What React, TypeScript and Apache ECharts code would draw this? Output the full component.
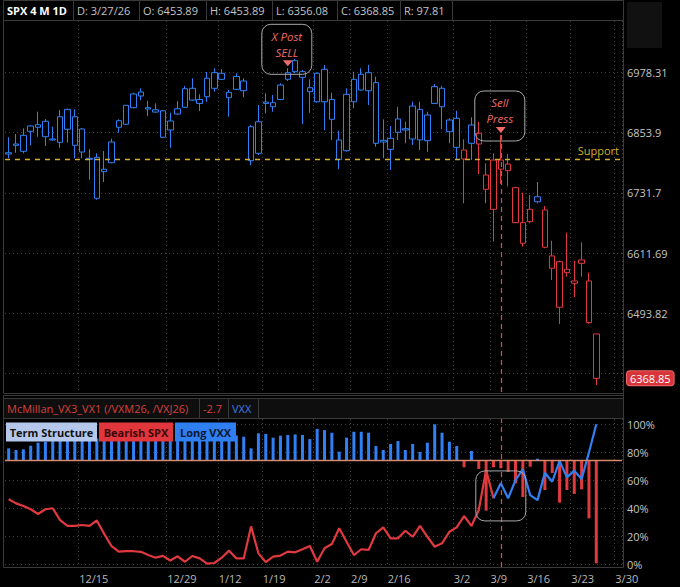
import React, { useEffect, useRef } from 'react';
import * as echarts from 'echarts';

// ---------- data ----------
const dates = [
  '12/1','12/2','12/3','12/4','12/5','12/8','12/9','12/10','12/11','12/12',
  '12/15','12/16','12/17','12/18','12/19','12/22','12/23','12/24','12/26','12/29',
  '12/30','12/31','1/2','1/5','1/6','1/7','1/8','1/9','1/12','1/13',
  '1/14','1/15','1/16','1/20','1/21','1/22','1/23','1/26','1/27','1/28',
  '1/29','1/30','2/2','2/3','2/4','2/5','2/6','2/9','2/10','2/11',
  '2/12','2/13','2/17','2/18','2/19','2/20','2/23','2/24','2/25','2/26',
  '2/27','3/2','3/3','3/4','3/5','3/6','3/9','3/10','3/11','3/12',
  '3/13','3/16','3/17','3/18','3/19','3/20','3/23','3/24','3/25','3/26',
  '3/27','3/30','3/31','4/1'
];

const opens = [
  6813, 6830.8, 6815.9, 6867.6, 6865, 6877.3, 6841, 6834.2, 6860.9, 6886.7,
  6861.5, 6801.6, 6803.6, 6779.5, 6792.7, 6865, 6871.1, 6905.3, 6937.7, 6905.3,
  6901, 6899, 6877.9, 6892.2, 6906.1, 6945.4, 6914.1, 6928, 6945.4, 6976.7,
  6937.1, 6970, 6960.6, 6866.2, 6811.8, 6916.9, 6907.3, 6922.3, 6964.1, 7003,
  6980, 6946.6, 6917.5, 6984.9, 6922.3, 6839, 6817.1, 6917.5, 6974.6, 6977.9,
  6957.1, 6838.3, 6819.9, 6854.7, 6862.1, 6841, 6901.8, 6837.5, 6914.1, 6945.4,
  6855.9, 6824, 6800.2, 6832.2, 6852.7, 6767.8, 6698.8, 6798.1, 6789.9, 6742.2,
  6672.1, 6674.1, 6723.9, 6697.4, 6581.8, 6594.8, 6573.2, 6552.4, 6598.2, 6556.9,
  6453.89
];
const highs = [
  6844.5, 6851.2, 6862.9, 6869, 6897, 6882, 6866.2, 6900.4, 6903.1, 6901.8,
  6863.5, 6820.5, 6811.7, 6816.5, 6841.6, 6881.3, 6911, 6936.3, 6945.4, 6919.5,
  6914.1, 6900.4, 6894.9, 6918.9, 6950.2, 6966.2, 6932.9, 6979.3, 6987, 6984.9,
  6941.9, 6976.7, 6966.2, 6869.7, 6910.8, 6935, 6931.5, 6955.8, 6987, 7006.5,
  6983.5, 6964.1, 6978.7, 6994, 6936.3, 6858, 6945.4, 6980, 6987, 6994,
  6969.5, 6881.3, 6867.6, 6907.3, 6876.4, 6917.5, 6917.5, 6897, 6954.3, 6950.2,
  6883.4, 6899, 6840.4, 6885.5, 6876.4, 6791.4, 6811.7, 6849.2, 6810.3, 6744,
  6731.9, 6727.4, 6753.6, 6705.4, 6636.3, 6597, 6652.2, 6596.8, 6633.1, 6573.2,
  6453.89
];
const lows = [
  6801.6, 6813, 6811.8, 6828.1, 6845.7, 6826.7, 6837.5, 6823.2, 6833.4, 6801.6,
  6801.6, 6758.5, 6718, 6753.6, 6791.4, 6853.9, 6869.7, 6904, 6920.9, 6888.1,
  6894.9, 6843, 6823.2, 6891, 6905, 6919.5, 6898.4, 6917.5, 6938.4, 6962.7,
  6886.7, 6941.9, 6926.8, 6787.8, 6808.3, 6893.7, 6897, 6920.9, 6960.5, 6977.2,
  6871.7, 6894.9, 6915.6, 6859.4, 6839, 6779.5, 6815, 6904, 6940.4, 6910.8,
  6825.3, 6801.6, 6778, 6839, 6832.2, 6828.7, 6818.5, 6815, 6912.9, 6860.9,
  6832.2, 6798.1, 6710.8, 6798.1, 6769.8, 6710.8, 6634.3, 6750.3, 6744.8, 6670.9,
  6624.4, 6670.9, 6710.8, 6621.2, 6558.8, 6473.3, 6565.3, 6525.1, 6565.3, 6473.3,
  6356.08
];
const closes = [
  6810.3, 6828.1, 6848.6, 6856.8, 6870.3, 6845.7, 6839, 6886.7, 6901.8, 6828.1,
  6814.4, 6799.5, 6720.9, 6774.5, 6834.9, 6878.5, 6910.2, 6933.6, 6929.5, 6902.5,
  6896.3, 6844.5, 6859.4, 6903.1, 6944.6, 6920.9, 6922.3, 6966.2, 6977.9, 6964.1,
  6925.9, 6943.3, 6940.4, 6796.8, 6876.4, 6914.1, 6915.6, 6952.3, 6977.9, 6980,
  6968.3, 6938.4, 6976.7, 6917.5, 6881.3, 6799.5, 6932.9, 6964.1, 6941.9, 6940.4,
  6832.2, 6834.9, 6842.4, 6882, 6859.4, 6908.7, 6839, 6890.2, 6948.8, 6907.3,
  6879.9, 6883.4, 6818.5, 6869.7, 6830.8, 6738.9, 6798.1, 6779.5, 6776.5, 6672.1,
  6631.1, 6698.8, 6713.9, 6623.2, 6606.1, 6505.6, 6579.8, 6556.9, 6591.6, 6475.8,
  6368.85
];
// bars painted red (bearish signal)
const bearishBars = [62, 64, 65, 66, 67, 68, 69, 70, 71, 73, 74, 75, 76, 77, 78, 79, 80];

// lower study (percent)
const termStructure = [
  82.9, 81.7, 82.2, 84.8, 86.9, 87.6, 89, 90, 91, 90,
  92, 91, 90, 89, 91, 92, 90, 91, 93, 92,
  91, 90, 92, 93, 91, 90, 92, 93, 92, 91,
  90, 92, 91.2, 82.9, 93.6, 93.1, 90.5, 91.9, 92.4, 92.8,
  92.4, 89.5, 96.7, 95.9, 94, 80.5, 90.5, 94.7, 94.7, 94,
  84.5, 81.7, 86, 88.1, 81.7, 86, 80.3, 86.9, 100, 94,
  87.6, 84.5, 69.4, 81, 68.2, 38.5, 69.4, 68.7, 66, 58,
  48.2, 69.8, 75.5, 53.2, 65.3, 44.2, 53.2, 50.4, 53.7, 33,
  1
];
const termBase = 74.5;
const studyLine = [
  46.6, 43.7, 41.8, 39.5, 36.1, 39.5, 40.2, 31.8, 27.6, 27.6,
  28.3, 27.6, 31.5, 22, 13.3, 9.3, 9.6, 9.6, 9.2, 6.9,
  5, 6.3, 3, 6, 2.1, 6.2, 4.5, 0.8, 1.2, 5,
  10, 4.5, 4.5, 27.3, 8.1, 1.8, 5.7, 6.5, 9.3, 8.8,
  11, 13.3, 2.1, 11.7, 14.7, 26, 16.4, 6.9, 11, 10.5,
  22.4, 26.6, 18.8, 18.8, 24.2, 19.9, 27.6, 19.9, 12.8, 15.2,
  23.5, 26.6, 34.7, 27.6, 39, 67.4, 47.3, 58, 47.3, 60.3,
  68, 49.6, 46, 65.5, 59.1, 74, 62.2, 67, 61, 80,
  100
];
const longVxxFrom = 66;

// axes
const priceTickLabels = ['6493.82', '6611.69', '6731.7', '6853.9', '6978.31'];
const extraGridPrice = 6378.1;
const priceMin = 6341;
const priceMax = 7086.5;
const pctTicks = [0, 20, 40, 60, 80, 100];
const pctMin = -1.64;
const pctMax = 103.8;
const dateTickIdx = [10, 22, 29, 35, 42, 47, 52, 61, 66, 71, 77, 83];
const dateTickText = ['12/15', '12/29', '1/12', '1/19', '2/2', '2/9', '2/16', '3/2', '3/9', '3/16', '3/23', '3/30'];

// annotations
const supportLevel = 6800;
const signals = [
  { idx: 38, text: 'X Post\nSELL' },
  { idx: 67, text: 'Sell\nPress' }
];
const studyBox = { idx: 67, pct: 49 };
const headerTitle = 'SPX 4 M 1D';
const headerDate = '3/27/26';
const studyTitle = 'McMillan_VX3_VX1 (/VXM26, /VXJ26)';
const studyValue = '-2.7';
const studySymbol = 'VXX';

// ---------- styling ----------
const BLUE = '#3080f4';
const RED = '#e0393e';
const GOLD = '#d4ae2c';
const GRID_C = '#404040';
const FRAME = '#3a3a3a';
const FONT = '"Open Sans", sans-serif';
const ROUND_BOX = 'path://M9,0H41A9,9,0,0,1,50,9V41A9,9,0,0,1,41,50H9A9,9,0,0,1,0,41V9A9,9,0,0,1,9,0Z';

const STEP = Math.log(parseFloat(priceTickLabels[4]) / parseFloat(priceTickLabels[0])) / 4;
const ANCHOR = parseFloat(priceTickLabels[3]);
const toU = (p: number) => Math.log(p / ANCHOR) / STEP;

function buildOption() {
  const last = closes.length - 1;
  const bearSet = new Set(bearishBars);
  const tickMap: Record<number, string> = {};
  dateTickIdx.forEach((d, k) => { tickMap[d] = dateTickText[k]; });
  const isTick = (i: number) => tickMap[i] !== undefined;

  const labelU = priceTickLabels.map((s) => toU(parseFloat(s)));
  const gridU = [toU(extraGridPrice), ...labelU];

  const candleData = opens.map((o, i) => {
    const c = bearSet.has(i) ? RED : BLUE;
    return {
      value: [toU(o), toU(closes[i]), toU(lows[i]), toU(highs[i])],
      itemStyle: { color: '#000', color0: c, borderColor: c, borderColor0: c, borderWidth: 1 }
    };
  });

  const splitLineX = { show: true, interval: (i: number) => isTick(i), lineStyle: { color: GRID_C, type: [1, 3], width: 1 } };

  const header = [
    { x0: 3, x1: 73, text: headerTitle, bold: true },
    { x0: 73, x1: 139, text: `D: ${headerDate}` },
    { x0: 139, x1: 206, text: `O: ${opens[last].toFixed(2)}` },
    { x0: 206, x1: 272, text: `H: ${highs[last].toFixed(2)}` },
    { x0: 272, x1: 337, text: `L: ${lows[last].toFixed(2)}` },
    { x0: 337, x1: 400, text: `C: ${closes[last].toFixed(2)}` },
    { x0: 400, x1: 452, text: `R: ${(highs[last] - lows[last]).toFixed(2)}` },
    { x0: 452, x1: 623, text: '' }
  ];

  const graphic: any[] = [];
  header.forEach((h) => {
    graphic.push({ type: 'rect', z: 50, shape: { x: h.x0 + 0.5, y: 0.5, width: h.x1 - h.x0, height: 20 }, style: { fill: '#000', stroke: FRAME, lineWidth: 1 } });
    if (h.text) {
      graphic.push({ type: 'text', z: 51, x: h.x0 + 4, y: 10.5, style: { text: h.text, fill: h.bold ? '#ffffff' : '#c4c4c4', fontSize: 11, fontWeight: h.bold ? 'bold' : 'normal', fontFamily: FONT, verticalAlign: 'middle', align: 'left' } });
    }
  });
  graphic.push({ type: 'rect', z: 1, shape: { x: 627, y: 2, width: 35, height: 46 }, style: { fill: '#111111' } });
  const line = (x1: number, y1: number, x2: number, y2: number) => ({ type: 'line', z: 40, shape: { x1, y1, x2, y2 }, style: { stroke: FRAME, lineWidth: 1 } });
  graphic.push(line(3.5, 20.5, 3.5, 393.5), line(3.5, 393.5, 623.5, 393.5), line(623.5, 0.5, 623.5, 567.5),
    line(3.5, 395.5, 623.5, 395.5), line(3.5, 395.5, 3.5, 567.5), line(3.5, 567.5, 623.5, 567.5));
  // study header
  const sh = [
    { x0: 3, x1: 199, text: studyTitle, color: '#d8413f' },
    { x0: 199, x1: 228, text: studyValue, color: '#d8413f' },
    { x0: 228, x1: 258, text: studySymbol, color: '#3a7de8' },
    { x0: 258, x1: 623, text: '', color: '' }
  ];
  sh.forEach((h) => {
    graphic.push({ type: 'rect', z: 50, shape: { x: h.x0 + 0.5, y: 398.5, width: h.x1 - h.x0, height: 20 }, style: { fill: '#0e0e0e', stroke: FRAME, lineWidth: 1 } });
    if (h.text) graphic.push({ type: 'text', z: 51, x: h.x0 + 4, y: 408.5, style: { text: h.text, fill: h.color, fontSize: 11, fontFamily: FONT, verticalAlign: 'middle', align: 'left' } });
  });
  // study labels
  const tags = [
    { x: 6, w: 91, text: 'Term Structure', bg: '#b5c8ec', fg: '#111111' },
    { x: 99, w: 74, text: 'Bearish SPX', bg: '#e0363c', fg: '#3a0707' },
    { x: 175, w: 61, text: 'Long VXX', bg: '#2f7ff0', fg: '#0a1733' }
  ];
  tags.forEach((t) => {
    graphic.push({ type: 'rect', z: 100, shape: { x: t.x, y: 422.5, width: t.w, height: 19 }, style: { fill: t.bg } });
    graphic.push({ type: 'text', z: 101, x: t.x + t.w / 2, y: 432.3, style: { text: t.text, fill: t.fg, fontSize: 11, fontWeight: 'bold', fontFamily: FONT, align: 'center', verticalAlign: 'middle' } });
  });

  const redLine = studyLine.map((v, i) => (i <= longVxxFrom ? v : null));
  const blueLine = studyLine.map((v, i) => (i >= longVxxFrom ? v : null));

  return {
    backgroundColor: '#000',
    animation: false,
    textStyle: { fontFamily: FONT },
    grid: [
      { left: 5, right: 58, top: 21, bottom: 194, outerBoundsMode: 'none' },
      { left: 5, right: 58, top: 419, bottom: 20, outerBoundsMode: 'none' }
    ],
    xAxis: [
      {
        type: 'category', gridIndex: 0, data: dates, boundaryGap: true,
        axisLine: { show: false }, axisTick: { show: false }, axisLabel: { show: false },
        splitLine: splitLineX
      },
      {
        type: 'category', gridIndex: 1, data: dates, boundaryGap: true,
        axisLine: { show: false }, axisTick: { show: false },
        axisLabel: {
          show: true, interval: (i: number) => isTick(i),
          formatter: (_v: string, i: number) => tickMap[i] || '',
          align: 'left', padding: [0, 0, 0, -3], margin: 6, lineHeight: 11,
          color: '#b8b8b8', fontSize: 11, fontFamily: FONT
        },
        splitLine: splitLineX
      }
    ],
    yAxis: [
      {
        type: 'value', gridIndex: 0, position: 'right', min: toU(priceMin), max: toU(priceMax),
        axisLine: { show: false },
        axisTick: { show: false, customValues: gridU },
        axisLabel: {
          customValues: labelU, margin: 5, color: '#c4c4c4', fontSize: 11, fontFamily: FONT,
          formatter: (v: number) => {
            let best = 0;
            labelU.forEach((u, k) => { if (Math.abs(u - v) < Math.abs(labelU[best] - v)) best = k; });
            return priceTickLabels[best];
          }
        },
        splitLine: { show: true, lineStyle: { color: GRID_C, type: [1, 3], width: 1 } }
      },
      {
        type: 'value', gridIndex: 1, position: 'right', min: pctMin, max: pctMax,
        axisLine: { show: false },
        axisTick: { show: false, customValues: pctTicks },
        axisLabel: { customValues: pctTicks, margin: 5, lineHeight: 11, color: '#c4c4c4', fontSize: 11, fontFamily: FONT, formatter: (v: number) => `${Math.round(v)}%` },
        splitLine: { show: true, lineStyle: { color: GRID_C, type: [1, 3], width: 1 } }
      },
      {
        type: 'value', gridIndex: 1, show: false, min: pctMin - termBase, max: pctMax - termBase,
        splitLine: { show: false }
      }
    ],
    graphic,
    series: [
      {
        name: 'SPX', type: 'candlestick', xAxisIndex: 0, yAxisIndex: 0, barWidth: 6,
        data: candleData,
        markLine: {
          silent: true, symbol: ['none', 'none'], animation: false,
          data: [
            {
              yAxis: toU(supportLevel),
              lineStyle: { color: GOLD, type: [5, 5], width: 1.3 },
              label: { show: true, position: 'insideEndTop', formatter: 'Support', color: GOLD, fontSize: 11, fontFamily: FONT, distance: 3 }
            },
            {
              yAxis: toU(closes[last]),
              lineStyle: { width: 0, color: 'rgba(0,0,0,0)' },
              label: {
                show: true, position: 'end', formatter: closes[last].toFixed(2), distance: 5,
                backgroundColor: '#d8353b', borderColor: '#ef6a6a', borderWidth: 1, borderRadius: 3,
                padding: [2, 3, 1, 3], color: '#ffffff', fontSize: 11, fontFamily: FONT
              }
            },
            [
              { coord: [dates[signals[1].idx], toU(highs[signals[1].idx])], lineStyle: { color: '#e04a4a', type: [5, 4], width: 1.2 }, label: { show: false } },
              { coord: [dates[signals[1].idx], toU(priceMin)] }
            ]
          ]
        },
        markPoint: {
          silent: true, animation: false,
          data: [
            ...signals.map((s) => ({
              coord: [dates[s.idx], toU(highs[s.idx])], symbol: 'triangle', symbolSize: [10, 6], symbolRotate: 180,
              symbolOffset: [0, -5], itemStyle: { color: '#f26b6b' }, label: { show: false }
            })),
            ...signals.map((s) => ({
              coord: [dates[s.idx], toU(highs[s.idx])], symbol: ROUND_BOX, symbolSize: [50, 50], symbolOffset: [-1, -19],
              itemStyle: { color: 'rgba(0,0,0,0)', borderColor: '#a8a8a8', borderWidth: 1 },
              label: { show: true, position: 'inside', formatter: s.text, color: '#f06a64', fontStyle: 'italic', fontSize: 11.5, lineHeight: 16, fontFamily: FONT, offset: [0, -5] }
            }))
          ]
        }
      },
      {
        name: 'Term Structure', type: 'bar', xAxisIndex: 1, yAxisIndex: 2, barWidth: 3,
        data: termStructure.map((v) => ({ value: v - termBase, itemStyle: { color: v >= termBase ? BLUE : RED } })),
        markLine: {
          silent: true, symbol: ['none', 'none'], animation: false, label: { show: false },
          data: [
            { yAxis: 0, lineStyle: { color: '#d4896c', type: 'solid', width: 1.3 } },
            { xAxis: dates[signals[1].idx], lineStyle: { color: '#e04a4a', type: [5, 4], width: 1.2 } }
          ]
        }
      },
      {
        name: 'Bearish SPX', type: 'line', xAxisIndex: 1, yAxisIndex: 1, data: redLine, symbol: 'none',
        lineStyle: { color: RED, width: 2.2 }, connectNulls: false
      },
      {
        name: 'Long VXX', type: 'line', xAxisIndex: 1, yAxisIndex: 1, data: blueLine, symbol: 'none',
        lineStyle: { color: BLUE, width: 2.2 }, connectNulls: false,
        markPoint: {
          silent: true, animation: false,
          data: [{
            coord: [dates[studyBox.idx], studyBox.pct], symbol: ROUND_BOX, symbolSize: [50, 50],
            itemStyle: { color: 'rgba(0,0,0,0)', borderColor: '#a8a8a8', borderWidth: 1 }, label: { show: false }
          }]
        }
      }
    ]
  };
}

export default function App() {
  const ref = useRef<HTMLDivElement>(null);
  useEffect(() => {
    document.body.style.margin = '0';
    document.body.style.background = '#000';
    const chart = echarts.init(ref.current as HTMLDivElement, null, { renderer: 'svg', width: 680, height: 587 });
    chart.setOption(buildOption() as any);
    return () => chart.dispose();
  }, []);
  return <div ref={ref} style={{ width: 680, height: 587, position: 'fixed', left: 0, top: 0 }} />;
}
